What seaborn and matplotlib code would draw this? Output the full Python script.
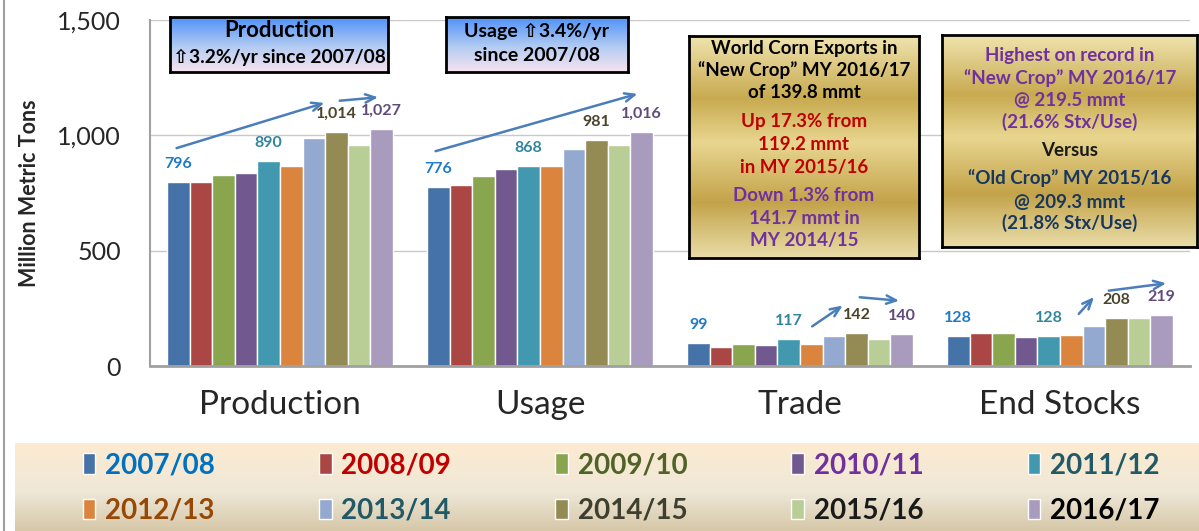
import numpy as np
import pandas as pd
import matplotlib
matplotlib.use("Agg")
import matplotlib.pyplot as plt
import matplotlib.colors as mcolors
from matplotlib.lines import Line2D
import seaborn as sns

# ==============================
# DATA
# ==============================
categories = ['Production', 'Usage', 'Trade', 'End Stocks']
years = ['2007/08', '2008/09', '2009/10', '2010/11', '2011/12',
         '2012/13', '2013/14', '2014/15', '2015/16', '2016/17']

production = [796, 799, 826, 835, 890, 868, 990, 1014, 956, 1027]
usage = [776, 783, 822, 853, 868, 868, 940, 981, 956, 1016]
trade = [99, 83, 94, 91, 117, 95, 130, 142, 119, 140]
end_stocks = [128, 143, 143, 124, 128, 135, 174, 208, 209, 219]

bar_colors = ['#4572A7', '#AA4643', '#89A54E', '#71588F', '#4198AF',
              '#DB843D', '#93A9CF', '#948A54', '#B9CD96', '#A99BBD']
legend_text_colors = ['#0070C0', '#C00000', '#4F6228', '#7030A0', '#215967',
                      '#974706', '#215967', '#3F3F2F', '#1A1A1A', '#000000']

# only a few years get value labels
labeled_years = {'2007/08': '#1F7BC8', '2011/12': '#31859C',
                 '2014/15': '#4A452A', '2016/17': '#604A7B'}

df = pd.DataFrame({
    'category': np.repeat(categories, len(years)),
    'year': years * len(categories),
    'value': production + usage + trade + end_stocks,
})

# ==============================
# FIGURE
# ==============================
sns.set_style("white")
plt.rcParams['font.family'] = ['Lato', 'DejaVu Sans']

W, H = 1199, 531
fig = plt.figure(figsize=(W / 100, H / 100), dpi=100)
ax = fig.add_axes([150 / W, 1 - 366 / H, 1040 / W, 346 / H])

sns.barplot(data=df, x='category', y='value', hue='year', order=categories,
            hue_order=years, palette=bar_colors, saturation=1, width=0.87,
            gap=0, legend=False, ax=ax)

ax.set_xlim(-0.5, 3.5)
ax.set_ylim(0, 1500)
ax.set_yticks([0, 500, 1000, 1500])
ax.yaxis.set_major_formatter(matplotlib.ticker.StrMethodFormatter('{x:,.0f}'))
ax.grid(axis='y', color='#C8C8C8', lw=1)
ax.set_axisbelow(True)
for s in ['top', 'right']:
    ax.spines[s].set_visible(False)
ax.spines['left'].set_color('#A0A0A0')
ax.spines['left'].set_linewidth(1.5)
ax.spines['bottom'].set_color('#A0A0A0')
ax.spines['bottom'].set_linewidth(2)
ax.tick_params(axis='y', length=6, color='#A0A0A0', labelsize=18, pad=15)
ax.tick_params(axis='x', length=0, labelsize=24, pad=17)
ax.set_xlabel('')
ax.set_ylabel('Million Metric Tons', fontsize=15.5, fontweight='bold')
ax.yaxis.set_label_coords(-0.106, 0.5)

# value labels
for yr, cont in zip(years, ax.containers):
    if yr in labeled_years:
        labs = [f'{v:,.0f}' for v in cont.datavalues]
        ax.bar_label(cont, labels=labs, padding=8, fontsize=11.5,
                     fontweight='bold', color=labeled_years[yr])

# trend arrows
arrows = [((-0.408, 941), (0.181, 1144)), ((0.219, 1149), (0.388, 1166)),
          ((0.588, 928), (1.385, 1183)),
          ((2.038, 165), (2.173, 269)), ((2.219, 299), (2.392, 282)),
          ((3.065, 217), (3.138, 308)), ((3.177, 325), (3.419, 360))]
for start, end in arrows:
    ax.annotate('', xy=end, xytext=start,
                arrowprops=dict(arrowstyle='->,head_length=0.7,head_width=0.3',
                                color='#4A7EBB', lw=1.8))


# ==============================
# TEXT BOXES
# ==============================
def gradient_axes(x0, y0, x1, y1, stops, colors, border=True):
    bx = fig.add_axes([x0 / W, 1 - y1 / H, (x1 - x0) / W, (y1 - y0) / H])
    rgb = np.array([mcolors.to_rgb(c) for c in colors])
    t = np.linspace(0, 1, 256)
    img = np.stack([np.interp(t, stops, rgb[:, k]) for k in range(3)], axis=1)
    bx.imshow(img[:, None, :], aspect='auto', extent=[0, 1, 0, 1], origin='upper')
    bx.set_xticks([])
    bx.set_yticks([])
    for s in bx.spines.values():
        s.set_visible(border)
        s.set_color('black')
        s.set_linewidth(2)
    return bx


def put_lines(xc, lines, size):
    for txt, y, col in lines:
        fig.text(xc / W, 1 - y / H, txt, ha='center', va='center', color=col,
                 fontsize=size, fontweight='bold', family=['Lato', 'DejaVu Sans'])


blue_stops = [0, 0.55, 1]
blue_cols = ['#4E92F8', '#B4CCF2', '#F8E4F0']
gold_stops = [0, 0.28, 0.48, 0.75, 1]
gold_cols = ['#EFE3AE', '#C8AA50', '#E8D690', '#C3A34A', '#E9DDA8']

gradient_axes(170, 17, 388, 72, blue_stops, blue_cols)
put_lines(279, [('Production', 31, 'black')], 16)
put_lines(279, [('⇧3.2%/yr since 2007/08', 57, 'black')], 13.8)

gradient_axes(446, 17, 628, 72, blue_stops, blue_cols)
put_lines(537, [('Usage ⇧3.4%/yr', 31, 'black'),
                ('since 2007/08', 55, 'black')], 14)

gradient_axes(689, 36, 919, 258, gold_stops, gold_cols)
put_lines(804, [('World Corn Exports in', 48, 'black'),
                ('“New Crop” MY 2016/17', 70, 'black'),
                ('of 139.8 mmt', 92, 'black'),
                ('Up 17.3% from', 122, '#C00000'),
                ('119.2 mmt', 145, '#C00000'),
                ('in MY 2015/16', 167, '#C00000'),
                ('Down 1.3% from', 195, '#7030A0'),
                ('141.7 mmt in', 218, '#7030A0'),
                ('MY 2014/15', 240, '#7030A0')], 13.5)

gradient_axes(942, 35, 1197, 247, gold_stops, gold_cols)
put_lines(1070, [('Highest on record in', 55, '#7030A0'),
                 ('“New Crop” MY 2016/17', 78, '#7030A0'),
                 ('@ 219.5 mmt', 100, '#7030A0'),
                 ('(21.6% Stx/Use)', 122, '#7030A0'),
                 ('Versus', 150, '#1A1A1A'),
                 ('“Old Crop” MY 2015/16', 178, '#17375E'),
                 ('@ 209.3 mmt', 202, '#17375E'),
                 ('(21.8% Stx/Use)', 223, '#17375E')], 13.5)

# ==============================
# LEGEND BAND
# ==============================
gradient_axes(15, 443, W, H, [0, 0.55, 1], ['#FDEBD0', '#EEE8D8', '#D6C7A8'],
              border=False)
order = [0, 5, 1, 6, 2, 7, 3, 8, 4, 9]
fig.legend([ax.containers[i] for i in order], [years[i] for i in order],
           labelcolor=[legend_text_colors[i] for i in order],
           ncol=5, loc='center', bbox_to_anchor=(0.518, 1 - 488 / H),
           frameon=False, prop=dict(family='Lato', weight='bold', size=20),
           handlelength=0.45, handleheight=0.75, handletextpad=0.35,
           columnspacing=3.75, labelspacing=0.7)

fig.add_artist(Line2D([4 / W, 4 / W], [0, 1], color='#A0A0A0', lw=1.5,
                      transform=fig.transFigure))

fig.savefig("out.png", dpi=100)
